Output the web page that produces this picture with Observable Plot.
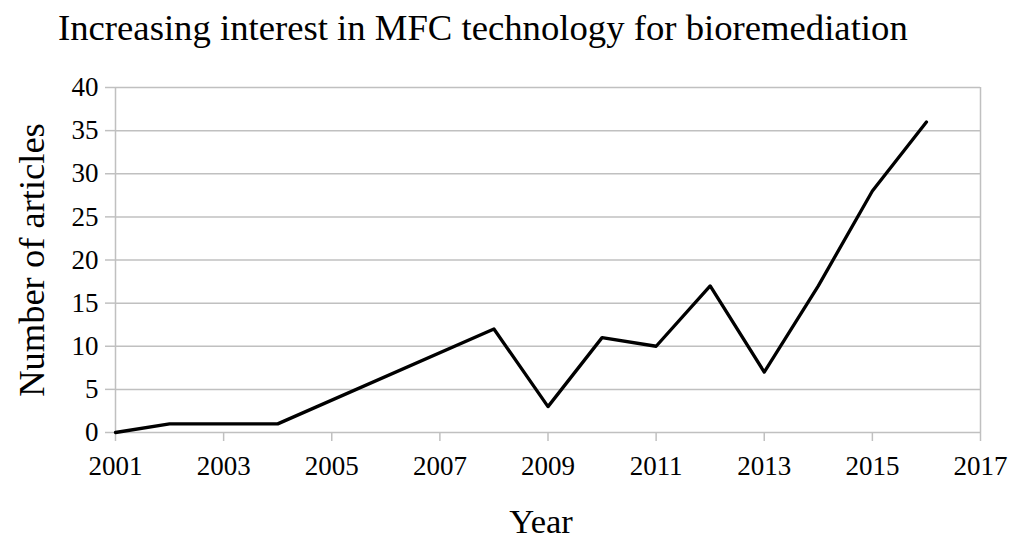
<!DOCTYPE html>
<html>
<head>
<meta charset="utf-8">
<script src="https://cdn.jsdelivr.net/npm/d3@7"></script>
<script src="https://cdn.jsdelivr.net/npm/@observablehq/plot@0.6"></script>
<style>
  html, body { margin: 0; padding: 0; background: #fff; }
  #title { font-family: "Liberation Serif", serif; font-size: 36.7px; height: 60px; line-height: 55px; padding-left: 58px; color: #000; white-space: nowrap; overflow: hidden; }
  #chart svg { display: block; }
</style>
</head>
<body>
<div id="title">Increasing interest in MFC technology for bioremediation</div>
<div id="chart"></div>
<script>
const years = [2001, 2002, 2003, 2004, 2008, 2009, 2010, 2011, 2012, 2013, 2014, 2015, 2016];
const articles = [0, 1, 1, 1, 12, 3, 11, 10, 17, 7, 17, 28, 36];
const xTicks = [2001, 2003, 2005, 2007, 2009, 2011, 2013, 2015, 2017];
const yTicks = [0, 5, 10, 15, 20, 25, 30, 35, 40];
const xLabel = "Year";
const yLabel = "Number of articles";

const data = years.map((y, i) => ({year: y, count: articles[i]}));
const grid = "#c0c0c0";

const chart = Plot.plot({
  width: 1011,
  height: 479,
  marginTop: 27,
  marginLeft: 115,
  marginRight: 31,
  marginBottom: 107,
  style: {fontFamily: "Liberation Serif, serif", background: "#fff", color: "#000"},
  x: {domain: [2001, 2017]},
  y: {domain: [0, 40]},
  marks: [
    Plot.ruleY(yTicks, {stroke: grid, strokeWidth: 1.5}),
    Plot.ruleX([xTicks[0], xTicks[xTicks.length - 1]], {stroke: grid, strokeWidth: 1.5}),
    Plot.axisY({ticks: yTicks, tickSize: 10, tickPadding: 7, stroke: grid, strokeWidth: 1.5, fontSize: 27, label: null, fill: "#000"}),
    Plot.axisX({ticks: xTicks, tickSize: 9, tickPadding: 14, stroke: grid, strokeWidth: 1.5, fontSize: 27, label: null, tickFormat: d => String(d), fill: "#000"}),
    Plot.line(data, {x: "year", y: "count", stroke: "#000", strokeWidth: 3.3}),
    Plot.text([xLabel], {frameAnchor: "bottom", lineAnchor: "middle", textAnchor: "middle", dx: -7, dy: 89, fontSize: 34.5, fill: "#000"}),
    Plot.text([yLabel], {frameAnchor: "left", lineAnchor: "middle", textAnchor: "middle", dx: -83, rotate: -90, fontSize: 36.5, fill: "#000"})
  ]
});
document.getElementById("chart").appendChild(chart);
</script>
</body>
</html>
